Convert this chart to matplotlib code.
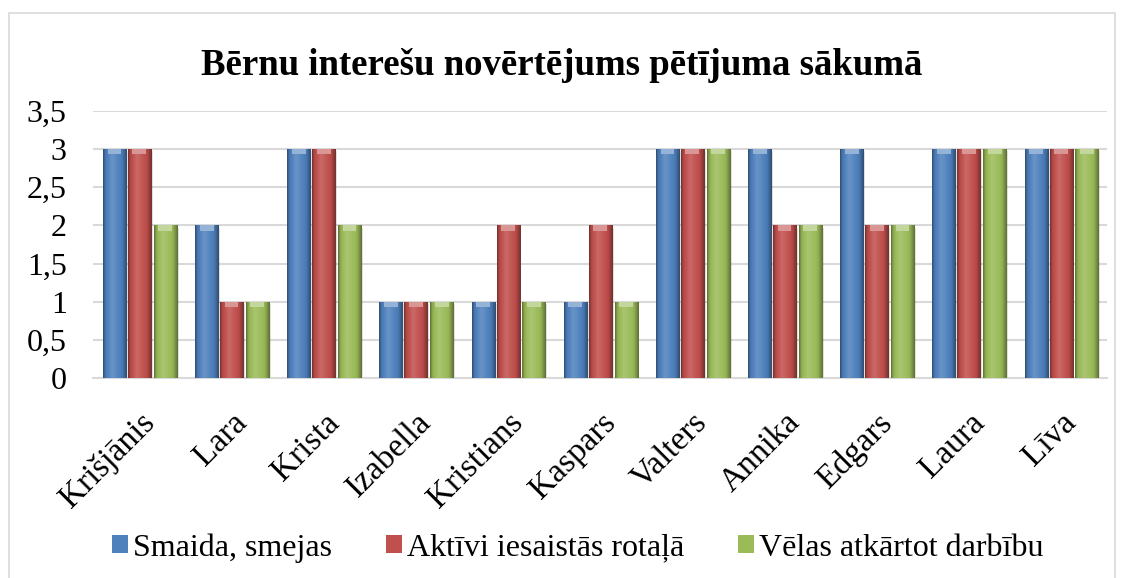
import numpy as np
import matplotlib
matplotlib.use("Agg")
import matplotlib.pyplot as plt
from matplotlib.colors import to_rgb
from matplotlib.patches import Rectangle

names = ["Kri\u0161j\u0101nis", "Lara", "Krista", "Izabella", "Kristians", "Kaspars",
         "Valters", "Annika", "Edgars", "Laura", "L\u012bva"]
smaida = [3, 2, 3, 1, 1, 1, 3, 3, 3, 3, 3]
aktivi = [3, 1, 3, 1, 2, 2, 3, 2, 2, 3, 3]
velas = [2, 1, 2, 1, 1, 1, 3, 2, 2, 3, 3]
series_labels = ["Smaida, smejas",
                 "Akt\u012bvi iesaist\u0101s rota\u013c\u0101",
                 "V\u0113las atk\u0101rtot darb\u012bbu"]
colors = ["#4F81BD", "#C0504D", "#9BBB59"]
yticks = [0, 0.5, 1, 1.5, 2, 2.5, 3, 3.5]
title = "B\u0113rnu intere\u0161u nov\u0113rt\u0113jums p\u0113t\u012bjuma s\u0101kum\u0101"

plt.rcParams["font.family"] = "Liberation Serif"

fig = plt.figure(figsize=(11.24, 5.78), dpi=100)
ax = fig.add_axes([0.083, 0.346, 0.902, 0.462])

# chart border
fig.patches.append(Rectangle((0.008, -0.01), 0.984, 0.988, transform=fig.transFigure,
                             fill=False, edgecolor="#D9D9D9", lw=1.2, zorder=0))


def shade(c, f):
    r = np.array(to_rgb(c))
    if f >= 0:
        return r + (1 - r) * f
    return r * (1 + f)


def cylinder(bar, color):
    x0, y0 = bar.get_x(), bar.get_y()
    w, h = bar.get_width(), bar.get_height()
    t = np.linspace(0, 1, 64)
    prof = np.interp(t, [0, 0.1, 0.38, 0.8, 1.0], [-0.4, -0.08, 0.15, -0.05, -0.4])
    row = np.array([shade(color, p) for p in prof])
    img = np.repeat(row[None, :, :], 2, axis=0)
    im = ax.imshow(img, extent=(x0, x0 + w, y0, y0 + h), aspect="auto",
                   interpolation="bilinear", zorder=3)
    im.set_clip_path(bar)
    # light cap at top
    ax.add_patch(Rectangle((x0 + w * 0.2, y0 + h - 0.07), w * 0.6, 0.07,
                           facecolor=shade(color, 0.4), edgecolor="none", zorder=4))
    # soft shadow
    ax.add_patch(Rectangle((x0 + w * 0.08, y0 - 0.03), w, h, facecolor="#000000",
                           alpha=0.12, edgecolor="none", zorder=2))


x = np.arange(len(names))
bw = 0.25
offsets = [-0.27, 0.0, 0.28]
handles = []
for vals, off, col, lab in zip([smaida, aktivi, velas], offsets, colors, series_labels):
    bars = ax.bar(x + off, vals, bw, color=col, edgecolor="none", zorder=3, label=lab)
    for b in bars:
        cylinder(b, col)
    handles.append(bars)

ax.set_xlim(-0.5, len(names) - 0.5)
ax.set_ylim(0, 3.5)
ax.set_yticks(yticks)
ax.set_yticklabels([f"{v:g}".replace(".", ",") for v in yticks], fontsize=23)
ax.set_xticks(x)
ax.set_xticklabels(names, rotation=45, ha="right", rotation_mode="anchor", fontsize=24)
ax.tick_params(axis="both", length=0)
ax.tick_params(axis="x", pad=21)
ax.tick_params(axis="y", pad=19)
ax.grid(axis="y", color="#D9D9D9", lw=1.5, zorder=0)
ax.set_axisbelow(True)
for s in ["top", "right", "left"]:
    ax.spines[s].set_visible(False)
ax.spines["bottom"].set_color("#D9D9D9")
ax.spines["bottom"].set_linewidth(1.5)

fig.suptitle(title, fontsize=26.5, fontweight="bold", y=0.917)

fig.legend(handles, series_labels, loc="center", bbox_to_anchor=(0.514, 0.052), ncol=3,
           frameon=False, fontsize=23, handlelength=0.5, handleheight=0.5,
           handletextpad=0.15, columnspacing=1.7)

fig.savefig("out.png", dpi=100)
